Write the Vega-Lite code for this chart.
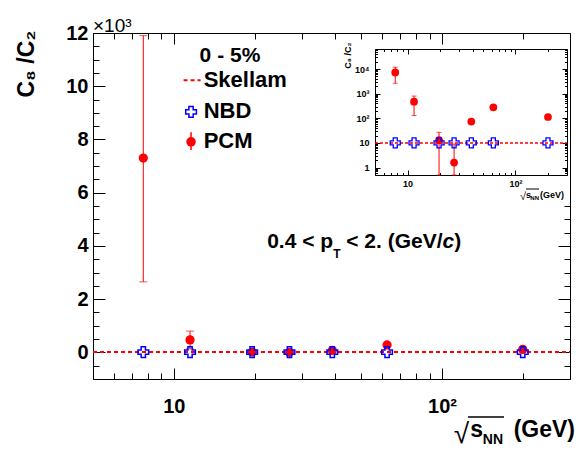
{
  "$schema": "https://vega.github.io/schema/vega-lite/v6.json",
  "width": 477,
  "height": 346,
  "autosize": {"type": "none"},
  "padding": {"left": 93, "top": 33, "right": 9, "bottom": 71},
  "background": "white",
  "config": {
    "view": {"stroke": null},
    "font": "Liberation Sans",
    "axis": {"grid": false, "domainColor": "black", "tickColor": "black", "labelColor": "black", "titleColor": "black", "labelFont": "Liberation Sans", "titleFont": "Liberation Sans", "labelOverlap": false, "labelBound": false, "labelFlush": false, "domainWidth": 1, "tickWidth": 1}
  },
  "datasets": {
    "pts": [
      {"x": 7.7, "pcm": 7300, "lo": 2650, "hi": 11900, "nbd": 10},
      {"x": 11.5, "pcm": 470, "lo": 130, "hi": 800, "nbd": 10},
      {"x": 19.6, "pcm": 13, "lo": 0.5, "hi": 27, "nbd": 10},
      {"x": 27, "pcm": 1.6, "lo": 0.5, "hi": 9, "nbd": 10},
      {"x": 39, "pcm": 74, "lo": 66, "hi": 82, "nbd": 10},
      {"x": 62.4, "pcm": 280, "lo": 260, "hi": 300, "nbd": 10},
      {"x": 200, "pcm": 113, "lo": 105, "hi": 121, "nbd": 10}
    ],
    "skellam": [{"series": "Skellam", "value": 10}],
    "one": [{"a": 1}]
  },
  "resolve": {"scale": {"x": "independent", "y": "independent"}},
  "layer": [
    {
      "layer": [
        {
          "data": {"name": "skellam"},
          "mark": {"type": "rule", "color": "#ff0000", "strokeDash": [4, 3], "strokeWidth": 2},
          "encoding": {
            "x": {"datum": 5, "type": "quantitative", "scale": {"type": "log", "domain": [5, 300], "nice": false}, "axis": null},
            "x2": {"datum": 300},
            "y": {"field": "value", "type": "quantitative", "scale": {"domain": [-1000, 12000], "nice": false, "zero": false}, "axis": null}
          }
        },
        {
          "data": {"name": "pts"},
          "mark": {"type": "errorbar", "ticks": {"size": 8}, "color": "#ff0000", "thickness": 1},
          "encoding": {
            "x": {"field": "x", "type": "quantitative", "axis": null},
            "y": {"field": "lo", "type": "quantitative", "axis": null},
            "y2": {"field": "hi"}
          }
        },
        {
          "data": {"name": "pts"},
          "mark": {"type": "point", "shape": "circle", "filled": true, "color": "#ff0000", "size": 85, "opacity": 1},
          "encoding": {
            "x": {"field": "x", "type": "quantitative", "axis": null},
            "y": {"field": "pcm", "type": "quantitative", "axis": null}
          }
        },
        {
          "data": {"name": "pts"},
          "mark": {"type": "point", "shape": "M-0.4,-1H0.4V-0.4H1V0.4H0.4V1H-0.4V0.4H-1V-0.4H-0.4Z", "filled": false, "color": "#0000ff", "strokeWidth": 1.5, "size": 114, "opacity": 1},
          "encoding": {
            "x": {"field": "x", "type": "quantitative", "axis": null},
            "y": {"field": "nbd", "type": "quantitative", "axis": null}
          }
        },
        {
          "data": {"name": "one"},
          "mark": {"type": "text", "text": "×10³", "fontSize": 19, "align": "left", "baseline": "alphabetic", "dy": -1, "color": "black"},
          "encoding": {"x": {"datum": 5, "axis": null}, "y": {"datum": 12000, "axis": null}}
        },
        {
          "data": {"name": "one"},
          "mark": {"type": "text", "text": "0 - 5%", "fontSize": 21, "fontWeight": "bold", "align": "center", "baseline": "alphabetic", "color": "black"},
          "encoding": {"x": {"datum": 16.2, "axis": null}, "y": {"datum": 10900, "axis": null}}
        },
        {
          "data": {"name": "one"},
          "mark": {"type": "rule", "color": "#ff0000", "strokeDash": [4, 3], "strokeWidth": 2},
          "encoding": {"x": {"datum": 10.88, "axis": null}, "x2": {"datum": 12.59}, "y": {"datum": 10225, "axis": null}}
        },
        {
          "data": {"name": "one"},
          "mark": {"type": "point", "shape": "M-0.4,-1H0.4V-0.4H1V0.4H0.4V1H-0.4V0.4H-1V-0.4H-0.4Z", "filled": false, "color": "#0000ff", "strokeWidth": 1.5, "size": 114, "opacity": 1},
          "encoding": {"x": {"datum": 11.6, "axis": null}, "y": {"datum": 9036, "axis": null}}
        },
        {
          "data": {"name": "one"},
          "mark": {"type": "rule", "color": "#ff0000", "strokeWidth": 1.5},
          "encoding": {"x": {"datum": 11.6, "axis": null}, "y": {"datum": 8275, "axis": null}, "y2": {"datum": 7600}}
        },
        {
          "data": {"name": "one"},
          "mark": {"type": "point", "shape": "circle", "filled": true, "color": "#ff0000", "size": 90, "opacity": 1},
          "encoding": {"x": {"datum": 11.6, "axis": null}, "y": {"datum": 7910, "axis": null}}
        },
        {
          "data": {"name": "one"},
          "mark": {"type": "text", "text": ["Skellam", "NBD", "PCM"], "lineHeight": 30.5, "fontSize": 22, "fontWeight": "bold", "align": "left", "baseline": "alphabetic", "color": "black"},
          "encoding": {"x": {"datum": 12.93, "axis": null}, "y": {"datum": 9960, "axis": null}}
        },
        {
          "data": {"name": "one"},
          "mark": {"type": "text", "text": "0.4 < p", "fontSize": 21, "fontWeight": "bold", "align": "left", "baseline": "alphabetic", "color": "black"},
          "encoding": {"x": {"datum": 22.3, "axis": null}, "y": {"datum": 3915, "axis": null}}
        },
        {
          "data": {"name": "one"},
          "mark": {"type": "text", "text": "T", "fontSize": 12, "fontWeight": "bold", "align": "left", "baseline": "alphabetic", "dx": 66, "dy": 10, "color": "black"},
          "encoding": {"x": {"datum": 22.3, "axis": null}, "y": {"datum": 3915, "axis": null}}
        },
        {
          "data": {"name": "one"},
          "mark": {"type": "text", "text": "< 2. (GeV/", "fontSize": 21, "fontWeight": "bold", "align": "left", "baseline": "alphabetic", "dx": 79, "color": "black"},
          "encoding": {"x": {"datum": 22.3, "axis": null}, "y": {"datum": 3915, "axis": null}}
        },
        {
          "data": {"name": "one"},
          "mark": {"type": "text", "text": "c", "fontSize": 21, "fontWeight": "bold", "fontStyle": "italic", "align": "left", "baseline": "alphabetic", "dx": 175.4, "color": "black"},
          "encoding": {"x": {"datum": 22.3, "axis": null}, "y": {"datum": 3915, "axis": null}}
        },
        {
          "data": {"name": "one"},
          "mark": {"type": "text", "text": ")", "fontSize": 21, "fontWeight": "bold", "align": "left", "baseline": "alphabetic", "dx": 187.1, "color": "black"},
          "encoding": {"x": {"datum": 22.3, "axis": null}, "y": {"datum": 3915, "axis": null}}
        },
        {
          "data": {"name": "one"},
          "mark": {"type": "text", "text": "(GeV)", "fontSize": 23, "fontWeight": "bold", "align": "right", "baseline": "alphabetic", "dx": 5, "dy": 58, "color": "black"},
          "encoding": {"x": {"datum": 300, "axis": null}, "y": {"datum": -1000, "axis": null}}
        },
        {
          "data": {"name": "one"},
          "mark": {"type": "text", "text": "NN", "fontSize": 14, "fontWeight": "bold", "align": "right", "baseline": "alphabetic", "dx": -67, "dy": 65, "color": "black"},
          "encoding": {"x": {"datum": 300, "axis": null}, "y": {"datum": -1000, "axis": null}}
        },
        {
          "data": {"name": "one"},
          "mark": {"type": "text", "text": "s", "fontSize": 23, "fontWeight": "bold", "align": "right", "baseline": "alphabetic", "dx": -87, "dy": 58, "color": "black"},
          "encoding": {"x": {"datum": 300, "axis": null}, "y": {"datum": -1000, "axis": null}}
        },
        {
          "data": {"name": "one"},
          "mark": {"type": "text", "text": "√", "fontSize": 28, "align": "right", "baseline": "alphabetic", "dx": -101, "dy": 64, "color": "black"},
          "encoding": {"x": {"datum": 300, "axis": null}, "y": {"datum": -1000, "axis": null}}
        },
        {
          "data": {"name": "one"},
          "mark": {"type": "rule", "color": "black", "strokeWidth": 1.5, "xOffset": -102, "x2Offset": -66, "yOffset": 38},
          "encoding": {"x": {"datum": 300, "axis": null}, "x2": {"datum": 300}, "y": {"datum": -1000, "axis": null}}
        }
      ]
    },
    {
      "data": {"name": "one"},
      "mark": {"type": "point", "opacity": 0},
      "encoding": {
        "x": {"datum": 10, "type": "quantitative",
          "scale": {"type": "log", "domain": [5, 300], "nice": false},
          "axis": {"orient": "bottom", "values": [10, 100], "tickSize": -11,
            "labelExpr": "datum.value === 10 ? '10' : '10²'",
            "labelFontSize": 20, "labelFontWeight": "bold", "labelPadding": 28, "title": null}},
        "y": {"datum": 0, "type": "quantitative",
          "scale": {"domain": [-1000, 12000], "nice": false, "zero": false},
          "axis": {"orient": "left", "values": [0, 2000, 4000, 6000, 8000, 10000, 12000], "tickSize": -12,
            "labelExpr": "datum.value === 0 ? '0' : datum.value === 2000 ? '2' : datum.value === 4000 ? '4' : datum.value === 6000 ? '6' : datum.value === 8000 ? '8' : datum.value === 10000 ? '10' : '12'",
            "labelFontSize": 20, "labelFontWeight": "bold", "labelPadding": 17,
            "title": "C₈ /C₂", "titleFontSize": 23, "titleFontWeight": "bold", "titleAngle": -90, "titleAlign": "right", "titleBaseline": "alphabetic", "titleX": -60, "titleY": -3}}
      }
    },
    {
      "data": {"name": "one"},
      "mark": {"type": "point", "opacity": 0},
      "encoding": {
        "x": {"datum": 10, "type": "quantitative",
          "scale": {"type": "log", "domain": [5, 300], "nice": false},
          "axis": {"orient": "bottom", "values": [5, 6, 7, 8, 9, 20, 30, 40, 50, 60, 70, 80, 90, 200, 300], "tickSize": -6, "labels": false, "domain": false, "title": null}},
        "y": {"datum": 0, "type": "quantitative",
          "scale": {"domain": [-1000, 12000], "nice": false, "zero": false},
          "axis": {"orient": "left", "values": [-1000, -500, 500, 1000, 1500, 2500, 3000, 3500, 4500, 5000, 5500, 6500, 7000, 7500, 8500, 9000, 9500, 10500, 11000, 11500], "tickSize": -6, "labels": false, "domain": false, "title": null}}
      }
    },
    {
      "data": {"name": "one"},
      "mark": {"type": "point", "opacity": 0},
      "encoding": {
        "x": {"datum": 10, "type": "quantitative",
          "scale": {"type": "log", "domain": [5, 300], "nice": false},
          "axis": {"orient": "top", "values": [10, 100], "tickSize": -11, "labels": false, "title": null}},
        "y": {"datum": 0, "type": "quantitative",
          "scale": {"domain": [-1000, 12000], "nice": false, "zero": false},
          "axis": {"orient": "right", "values": [0, 2000, 4000], "tickSize": -12, "labels": false, "title": null}}
      }
    },
    {
      "data": {"name": "one"},
      "mark": {"type": "point", "opacity": 0},
      "encoding": {
        "x": {"datum": 10, "type": "quantitative",
          "scale": {"type": "log", "domain": [5, 300], "nice": false},
          "axis": {"orient": "top", "values": [5, 6, 7, 8, 9, 20, 30, 40, 50, 60, 70, 80, 90, 200, 300], "tickSize": -6, "labels": false, "domain": false, "title": null}},
        "y": {"datum": 0, "type": "quantitative",
          "scale": {"domain": [-1000, 12000], "nice": false, "zero": false},
          "axis": {"orient": "right", "values": [-1000, -500, 500, 1000, 1500, 2500, 3000, 3500, 4500, 5000, 5500], "tickSize": -6, "labels": false, "domain": false, "title": null}}
      }
    },
    {
      "layer": [
        {
          "data": {"name": "skellam"},
          "mark": {"type": "rule", "color": "#ff0000", "strokeDash": [3, 2], "strokeWidth": 1.5},
          "encoding": {
            "x": {"datum": 5, "type": "quantitative", "scale": {"type": "log", "domain": [5, 300], "nice": false, "range": [282, 474]}, "axis": null},
            "x2": {"datum": 300},
            "y": {"field": "value", "type": "quantitative", "scale": {"type": "log", "domain": [0.5, 65000], "nice": false, "range": [142, 16]}, "axis": null}
          }
        },
        {
          "data": {"name": "pts"},
          "mark": {"type": "errorbar", "ticks": {"size": 5}, "color": "#ff0000", "thickness": 1},
          "encoding": {
            "x": {"field": "x", "type": "quantitative", "axis": null},
            "y": {"field": "lo", "type": "quantitative", "axis": null},
            "y2": {"field": "hi"}
          }
        },
        {
          "data": {"name": "pts"},
          "mark": {"type": "point", "shape": "circle", "filled": true, "color": "#ff0000", "size": 60, "opacity": 1},
          "encoding": {
            "x": {"field": "x", "type": "quantitative", "axis": null},
            "y": {"field": "pcm", "type": "quantitative", "axis": null}
          }
        },
        {
          "data": {"name": "pts"},
          "mark": {"type": "point", "shape": "M-0.4,-1H0.4V-0.4H1V0.4H0.4V1H-0.4V0.4H-1V-0.4H-0.4Z", "filled": false, "color": "#0000ff", "strokeWidth": 1.3, "size": 100, "opacity": 1},
          "encoding": {
            "x": {"field": "x", "type": "quantitative", "axis": null},
            "y": {"field": "nbd", "type": "quantitative", "axis": null}
          }
        },
        {
          "data": {"name": "one"},
          "mark": {"type": "text", "text": "(GeV)", "fontSize": 9, "fontWeight": "bold", "align": "right", "baseline": "alphabetic", "dx": -3, "dy": 23, "color": "black"},
          "encoding": {"x": {"datum": 300, "axis": null}, "y": {"datum": 0.5, "axis": null}}
        },
        {
          "data": {"name": "one"},
          "mark": {"type": "text", "text": "NN", "fontSize": 6, "fontWeight": "bold", "align": "right", "baseline": "alphabetic", "dx": -28, "dy": 25, "color": "black"},
          "encoding": {"x": {"datum": 300, "axis": null}, "y": {"datum": 0.5, "axis": null}}
        },
        {
          "data": {"name": "one"},
          "mark": {"type": "text", "text": "s", "fontSize": 9, "fontWeight": "bold", "align": "right", "baseline": "alphabetic", "dx": -36, "dy": 23, "color": "black"},
          "encoding": {"x": {"datum": 300, "axis": null}, "y": {"datum": 0.5, "axis": null}}
        },
        {
          "data": {"name": "one"},
          "mark": {"type": "text", "text": "√", "fontSize": 11, "align": "right", "baseline": "alphabetic", "dx": -41, "dy": 25, "color": "black"},
          "encoding": {"x": {"datum": 300, "axis": null}, "y": {"datum": 0.5, "axis": null}}
        },
        {
          "data": {"name": "one"},
          "mark": {"type": "rule", "color": "black", "strokeWidth": 1, "xOffset": -41, "x2Offset": -28, "yOffset": 14},
          "encoding": {"x": {"datum": 300, "axis": null}, "x2": {"datum": 300}, "y": {"datum": 0.5, "axis": null}}
        }
      ]
    },
    {
      "data": {"name": "one"},
      "mark": {"type": "point", "opacity": 0},
      "encoding": {
        "x": {"datum": 10, "type": "quantitative",
          "scale": {"type": "log", "domain": [5, 300], "nice": false, "range": [282, 474]},
          "axis": {"orient": "bottom", "offset": -204, "values": [10, 100], "tickSize": -5,
            "labelExpr": "datum.value === 10 ? '10' : '10²'",
            "labelFontSize": 9, "labelFontWeight": "bold", "labelPadding": 9, "title": null}},
        "y": {"datum": 10, "type": "quantitative",
          "scale": {"type": "log", "domain": [0.5, 65000], "nice": false, "range": [142, 16]},
          "axis": {"orient": "left", "offset": -282, "values": [1, 10, 100, 1000, 10000], "tickSize": -5,
            "labelExpr": "datum.value === 1 ? '1' : datum.value === 10 ? '10' : datum.value === 100 ? '10²' : datum.value === 1000 ? '10³' : '10⁴'",
            "labelFontSize": 9, "labelFontWeight": "bold", "labelPadding": 11,
            "title": "C₈ /C₂", "titleFontSize": 9, "titleFontWeight": "bold", "titleAngle": -90, "titleAlign": "right", "titleBaseline": "alphabetic", "titleX": -25, "titleY": 9}}
      }
    },
    {
      "data": {"name": "one"},
      "mark": {"type": "point", "opacity": 0},
      "encoding": {
        "x": {"datum": 10, "type": "quantitative",
          "scale": {"type": "log", "domain": [5, 300], "nice": false, "range": [282, 474]},
          "axis": {"orient": "bottom", "offset": -204, "values": [5, 6, 7, 8, 9, 20, 30, 40, 50, 60, 70, 80, 90, 200, 300], "tickSize": -2.5, "labels": false, "domain": false, "title": null}},
        "y": {"datum": 10, "type": "quantitative",
          "scale": {"type": "log", "domain": [0.5, 65000], "nice": false, "range": [142, 16]},
          "axis": {"orient": "left", "offset": -282, "values": [0.5, 0.6, 0.7, 0.8, 0.9, 2, 3, 4, 5, 6, 7, 8, 9, 20, 30, 40, 50, 60, 70, 80, 90, 200, 300, 400, 500, 600, 700, 800, 900, 2000, 3000, 4000, 5000, 6000, 7000, 8000, 9000, 20000, 30000, 40000, 50000, 60000], "tickSize": -2.5, "labels": false, "domain": false, "title": null}}
      }
    },
    {
      "data": {"name": "one"},
      "mark": {"type": "point", "opacity": 0},
      "encoding": {
        "x": {"datum": 10, "type": "quantitative",
          "scale": {"type": "log", "domain": [5, 300], "nice": false, "range": [282, 474]},
          "axis": {"orient": "top", "offset": -16, "values": [10, 100], "tickSize": -5, "labels": false, "title": null}},
        "y": {"datum": 10, "type": "quantitative",
          "scale": {"type": "log", "domain": [0.5, 65000], "nice": false, "range": [142, 16]},
          "axis": {"orient": "right", "offset": -3, "values": [1, 10, 100, 1000, 10000], "tickSize": -5, "labels": false, "title": null}}
      }
    },
    {
      "data": {"name": "one"},
      "mark": {"type": "point", "opacity": 0},
      "encoding": {
        "x": {"datum": 10, "type": "quantitative",
          "scale": {"type": "log", "domain": [5, 300], "nice": false, "range": [282, 474]},
          "axis": {"orient": "top", "offset": -16, "values": [5, 6, 7, 8, 9, 20, 30, 40, 50, 60, 70, 80, 90, 200, 300], "tickSize": -2.5, "labels": false, "domain": false, "title": null}},
        "y": {"datum": 10, "type": "quantitative",
          "scale": {"type": "log", "domain": [0.5, 65000], "nice": false, "range": [142, 16]},
          "axis": {"orient": "right", "offset": -3, "values": [0.5, 0.6, 0.7, 0.8, 0.9, 2, 3, 4, 5, 6, 7, 8, 9, 20, 30, 40, 50, 60, 70, 80, 90, 200, 300, 400, 500, 600, 700, 800, 900, 2000, 3000, 4000, 5000, 6000, 7000, 8000, 9000, 20000, 30000, 40000, 50000, 60000], "tickSize": -2.5, "labels": false, "domain": false, "title": null}}
      }
    }
  ]
}
